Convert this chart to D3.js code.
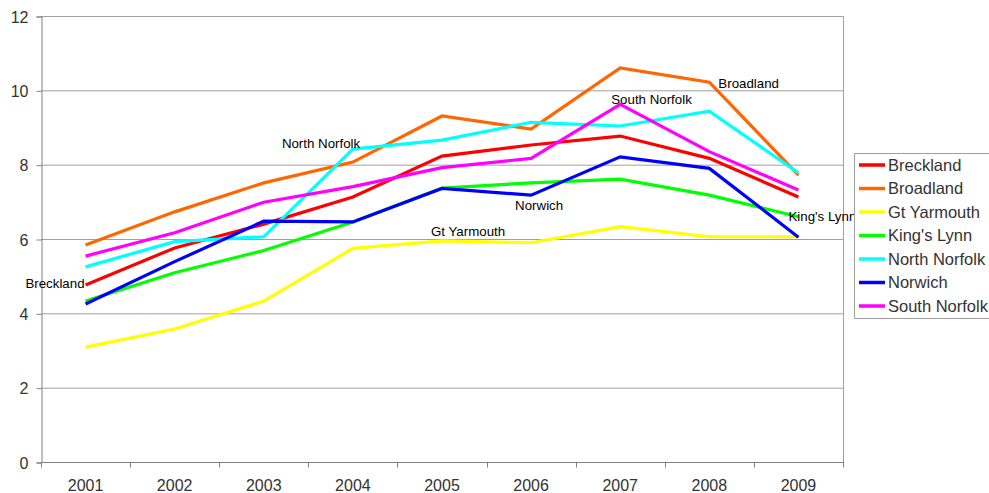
<!DOCTYPE html>
<html>
<head>
<meta charset="utf-8">
<script src="https://cdn.jsdelivr.net/npm/d3@7"></script>
<style>
  body { margin: 0; background: #fff; }
  text { font-family: "Liberation Sans", Arial, sans-serif; }
</style>
</head>
<body>
<div id="chart"></div>
<script>
const years = ["2001", "2002", "2003", "2004", "2005", "2006", "2007", "2008", "2009"];
const yTicks = [0, 2, 4, 6, 8, 10, 12];

const breckland    = [4.76, 5.76, 6.40, 7.13, 8.23, 8.53, 8.77, 8.17, 7.13];
const broadland    = [5.84, 6.73, 7.51, 8.07, 9.31, 8.96, 10.60, 10.22, 7.72];
const gtYarmouth   = [3.09, 3.58, 4.33, 5.75, 5.95, 5.90, 6.33, 6.06, 6.06];
const kingsLynn    = [4.33, 5.09, 5.69, 6.46, 7.37, 7.51, 7.61, 7.18, 6.60];
const northNorfolk = [5.25, 5.93, 6.06, 8.42, 8.66, 9.14, 9.04, 9.44, 7.78];
const norwich      = [4.25, 5.39, 6.48, 6.46, 7.36, 7.18, 8.21, 7.90, 6.05];
const southNorfolk = [5.54, 6.17, 6.99, 7.41, 7.92, 8.17, 9.62, 8.35, 7.32];

const seriesNames = ["Breckland", "Broadland", "Gt Yarmouth", "King's Lynn", "North Norfolk", "Norwich", "South Norfolk"];
const seriesValues = [breckland, broadland, gtYarmouth, kingsLynn, northNorfolk, norwich, southNorfolk];
const seriesColors = ["#ff0000", "#ff6600", "#ffff00", "#00ff00", "#00ffff", "#0000ff", "#ff00ff"];

// one data label per series, at the given year
const labelYears = ["2001", "2008", "2005", "2009", "2004", "2006", "2007"];

const W = 989, H = 493;
const plot = { left: 41, top: 16, right: 843, bottom: 462 };

const svg = d3.select("#chart").append("svg")
    .attr("width", W)
    .attr("height", H);

const x = d3.scaleBand()
    .domain(years)
    .range([plot.left, plot.right]);

const y = d3.scaleLinear()
    .domain([0, 12])
    .range([plot.bottom, plot.top]);

// gridlines
svg.append("g")
    .selectAll("line")
    .data(yTicks)
    .enter()
    .append("line")
    .attr("x1", plot.left)
    .attr("x2", plot.right)
    .attr("y1", d => y(d) + 0.5)
    .attr("y2", d => y(d) + 0.5)
    .attr("stroke", "#a0a0a0")
    .attr("stroke-width", 1);

// right border of plot area
svg.append("line")
    .attr("x1", plot.right + 0.5).attr("x2", plot.right + 0.5)
    .attr("y1", plot.top).attr("y2", plot.bottom)
    .attr("stroke", "#a0a0a0");

// y axis
const yAxis = svg.append("g")
    .attr("transform", `translate(${plot.left + 0.5},0.5)`)
    .call(d3.axisLeft(y).tickValues(yTicks).tickSize(5).tickPadding(8));
yAxis.select(".domain").attr("stroke", "#808080");
yAxis.selectAll(".tick line").attr("stroke", "#808080");
yAxis.selectAll("text")
    .attr("fill", "#333")
    .style("font-size", "16px")
    .attr("dy", "0.35em");

// x axis with ticks between categories
const xAxis = svg.append("g")
    .attr("transform", `translate(0,${plot.bottom + 0.5})`);
xAxis.append("line")
    .attr("x1", plot.left).attr("x2", plot.right + 1)
    .attr("stroke", "#808080");
const boundaries = years.map(d => x(d)).concat([x.range()[1]]);
xAxis.selectAll(".bt")
    .data(boundaries)
    .enter()
    .append("line")
    .attr("x1", d => Math.round(d) + 0.5)
    .attr("x2", d => Math.round(d) + 0.5)
    .attr("y1", 0)
    .attr("y2", 5)
    .attr("stroke", "#808080");
xAxis.selectAll("text")
    .data(years)
    .enter()
    .append("text")
    .attr("x", d => x(d) + x.bandwidth() / 2)
    .attr("y", 28)
    .attr("text-anchor", "middle")
    .attr("fill", "#333")
    .style("font-size", "16px")
    .text(d => d);

// lines
const line = d3.line()
    .x((d, i) => x(years[i]) + x.bandwidth() / 2)
    .y(d => y(d));

svg.append("g")
    .selectAll("path")
    .data(seriesValues)
    .enter()
    .append("path")
    .attr("d", line)
    .attr("fill", "none")
    .attr("stroke", (d, i) => seriesColors[i])
    .attr("stroke-width", 3.2)
    .attr("stroke-linejoin", "miter");

// data labels
const labelOffsets = [
    { dx: -1, dy: -2, anchor: "end" },
    { dx: 9, dy: 1, anchor: "start" },
    { dx: -11, dy: -10, anchor: "start" },
    { dx: -10, dy: 0, anchor: "start" },
    { dx: -71, dy: -6, anchor: "start" },
    { dx: -16, dy: 10, anchor: "start" },
    { dx: -9, dy: -5, anchor: "start" }
];

svg.append("g")
    .selectAll("text")
    .data(seriesNames)
    .enter()
    .append("text")
    .attr("x", (d, i) => x(labelYears[i]) + x.bandwidth() / 2 + labelOffsets[i].dx)
    .attr("y", (d, i) => y(seriesValues[i][years.indexOf(labelYears[i])]) + labelOffsets[i].dy)
    .attr("dy", "0.35em")
    .attr("text-anchor", (d, i) => labelOffsets[i].anchor)
    .attr("fill", "#000")
    .style("font-size", "13.3px")
    .text(d => d);

// legend
const legend = svg.append("g").attr("transform", "translate(854,153)");
legend.append("rect")
    .attr("x", 0.5).attr("y", 0.5)
    .attr("width", 140).attr("height", 165)
    .attr("fill", "#fff")
    .attr("stroke", "#a0a0a0");
const items = legend.selectAll(".item")
    .data(seriesNames)
    .enter()
    .append("g")
    .attr("transform", (d, i) => `translate(0,${12 + i * 23.5})`);
items.append("line")
    .attr("x1", 5).attr("x2", 31)
    .attr("stroke", (d, i) => seriesColors[i])
    .attr("stroke-width", 3.5);
items.append("text")
    .attr("x", 34)
    .attr("dy", "0.35em")
    .attr("fill", "#333")
    .style("font-size", "16.5px")
    .text(d => d);
</script>
</body>
</html>
